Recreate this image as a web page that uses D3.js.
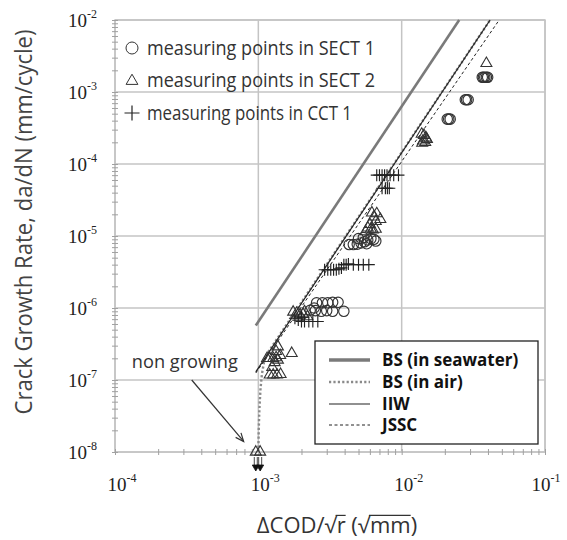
<!DOCTYPE html>
<html>
<head>
<meta charset="utf-8">
<script src="https://cdn.jsdelivr.net/npm/d3@7"></script>
<style>
  html, body { margin: 0; padding: 0; background: #fff; }
  svg { display: block; }
</style>
</head>
<body>
<svg id="chart" width="567" height="540"></svg>
<script>
// ---------------- DATA ----------------
const xDecades = [1e-4, 1e-3, 1e-2, 1e-1];
const xTickExp = ["-4", "-3", "-2", "-1"];
const yDecades = [1e-8, 1e-7, 1e-6, 1e-5, 1e-4, 1e-3, 1e-2];
const yTickExp = ["-8", "-7", "-6", "-5", "-4", "-3", "-2"];

const seriesNames = ["measuring points in SECT 1", "measuring points in SECT 2", "measuring points in CCT 1"];
const lineNames = ["BS (in seawater)", "BS (in air)", "IIW", "JSSC"];

// SECT 1 (circles)
const sect1 = [
  [0.0365, 1.6e-3], [0.0372, 1.6e-3], [0.0380, 1.6e-3], [0.0390, 1.6e-3], [0.0398, 1.6e-3],
  [0.0278, 7.8e-4], [0.0284, 7.8e-4], [0.0291, 7.8e-4],
  [0.0208, 4.2e-4], [0.0213, 4.2e-4], [0.0218, 4.2e-4],
  [4.3e-3, 7.6e-6], [4.6e-3, 7.6e-6], [4.9e-3, 7.7e-6], [5.2e-3, 8.0e-6], [5.5e-3, 8.3e-6],
  [5.8e-3, 8.8e-6], [6.1e-3, 9.2e-6], [6.4e-3, 9.0e-6], [5.0e-3, 9.2e-6], [5.7e-3, 7.8e-6],
  [6.6e-3, 8.5e-6], [5.4e-3, 9.5e-6],
  [2.55e-3, 1.18e-6], [2.8e-3, 1.18e-6], [3.05e-3, 1.18e-6], [3.3e-3, 1.2e-6], [3.6e-3, 1.2e-6],
  [2.3e-3, 9.3e-7], [2.5e-3, 9.2e-7], [2.75e-3, 9.0e-7], [3.0e-3, 9.2e-7], [3.3e-3, 9.0e-7],
  [3.95e-3, 9.0e-7], [2.45e-3, 1.0e-6]
];

// SECT 2 (triangles)
const sect2 = [
  [0.039, 2.5e-3],
  [0.0138, 2.6e-4], [0.0143, 2.5e-4], [0.0148, 2.3e-4], [0.0141, 2.1e-4], [0.0146, 2.0e-4],
  [0.0139, 1.95e-4], [0.0150, 2.2e-4],
  [6.2e-3, 2.1e-5], [6.7e-3, 2.05e-5], [6.4e-3, 1.85e-5], [7.1e-3, 1.7e-5], [6.6e-3, 1.6e-5],
  [6.0e-3, 1.45e-5], [5.8e-3, 1.3e-5], [6.1e-3, 1.25e-5], [6.3e-3, 1.22e-5], [6.6e-3, 1.25e-5],
  [5.6e-3, 1.15e-5],
  [1.75e-3, 8.8e-7], [1.85e-3, 8.5e-7], [1.95e-3, 8.0e-7], [2.05e-3, 8.2e-7], [2.2e-3, 7.6e-7],
  [2.1e-3, 8.9e-7],
  [1.15e-3, 2.0e-7], [1.2e-3, 2.0e-7], [1.27e-3, 2.0e-7], [1.33e-3, 2.05e-7], [1.37e-3, 1.9e-7],
  [1.3e-3, 1.75e-7], [1.33e-3, 2.5e-7], [1.37e-3, 2.9e-7], [1.42e-3, 2.2e-7], [1.71e-3, 2.35e-7],
  [1.2e-3, 1.18e-7], [1.27e-3, 1.18e-7], [1.35e-3, 1.18e-7], [1.43e-3, 1.2e-7], [1.25e-3, 1.5e-7]
];
// SECT 2 points that did not grow (drawn with down arrows)
const nonGrowing = [[9.6e-4, 1e-8], [1.03e-3, 1e-8]];

// CCT 1 (crosses)
const cct1 = [
  [6.7e-3, 7.0e-5], [7.0e-3, 7.0e-5], [7.3e-3, 7.0e-5], [7.6e-3, 7.0e-5], [7.9e-3, 7.0e-5],
  [8.3e-3, 7.0e-5], [8.8e-3, 7.0e-5], [9.5e-3, 7.0e-5],
  [7.3e-3, 4.6e-5], [7.7e-3, 4.6e-5], [7.95e-3, 4.6e-5], [8.2e-3, 4.6e-5],
  [2.9e-3, 3.4e-6], [3.05e-3, 3.4e-6], [3.2e-3, 3.4e-6], [3.35e-3, 3.4e-6], [3.5e-3, 3.4e-6],
  [3.65e-3, 3.5e-6], [3.8e-3, 3.6e-6],
  [3.95e-3, 4.0e-6], [4.1e-3, 4.0e-6], [4.25e-3, 4.1e-6], [4.6e-3, 4.0e-6], [5.0e-3, 4.0e-6],
  [5.4e-3, 4.0e-6], [5.9e-3, 4.0e-6],
  [1.8e-3, 7.2e-7], [1.9e-3, 6.8e-7], [2.0e-3, 6.5e-7], [2.1e-3, 6.5e-7], [2.25e-3, 6.5e-7],
  [2.4e-3, 6.5e-7], [2.6e-3, 6.5e-7], [2.0e-3, 7.5e-7]
];

// Design curves
const bsSeawater = [[9.6e-4, 5.7e-7], [0.0252, 1e-2]];
const bsAir = [[1.0e-3, 1e-8], [1.006e-3, 2.0e-8], [1.017e-3, 3.9e-8], [1.035e-3, 7.5e-8],
               [1.06e-3, 1.22e-7], [1.097e-3, 1.8e-7], [1.14e-3, 2.25e-7], [0.0414, 1e-2]];
const iiw = [[9.6e-4, 1.3e-7], [0.0414, 1e-2]];
const jssc = [[9.6e-4, 1.25e-7], [0.0479, 1e-2]];

// Annotation
const annoText = "non growing";
const annoTextPos = [1.31e-4, 1.45e-7];
const annoArrow = [[3.43e-4, 1.0e-7], [7.9e-4, 1.4e-8]];

// ---------------- CHART ----------------
const svg = d3.select("#chart");
const L = 115, R = 545, T = 20, B = 452;
const x = d3.scaleLog().domain([1e-4, 1e-1]).range([L, R]);
const y = d3.scaleLog().domain([1e-8, 1e-2]).range([B, T]);
const sans = "'Open Sans', 'Noto Sans', sans-serif";
const serif = "'Liberation Serif', 'DejaVu Serif', serif";
const gridCol = "#c4c4c4";

// gridlines
svg.append("g").selectAll("line").data(xDecades).join("line")
  .attr("x1", d => x(d)).attr("x2", d => x(d)).attr("y1", T).attr("y2", B)
  .attr("stroke", gridCol).attr("stroke-width", 1.5);
svg.append("g").selectAll("line").data(yDecades).join("line")
  .attr("x1", L).attr("x2", R).attr("y1", d => y(d)).attr("y2", d => y(d))
  .attr("stroke", gridCol).attr("stroke-width", 1.5);
svg.append("rect").attr("x", L).attr("y", T).attr("width", R - L).attr("height", B - T)
  .attr("fill", "none").attr("stroke", gridCol).attr("stroke-width", 1.5);

// minor ticks (crossing the axis lines)
const yMinor = svg.append("g").attr("transform", `translate(${L},0)`)
  .call(d3.axisLeft(y).tickValues(y.ticks()).tickFormat("").tickSize(3));
yMinor.select(".domain").remove();
yMinor.selectAll("line").attr("x1", -3).attr("x2", 3).attr("stroke", "#a0a0a0");
const xMinor = svg.append("g").attr("transform", `translate(0,${B})`)
  .call(d3.axisBottom(x).tickValues(x.ticks()).tickFormat("").tickSize(3));
xMinor.select(".domain").remove();
xMinor.selectAll("line").attr("y1", -3).attr("y2", 3).attr("stroke", "#a0a0a0");

// decade tick labels (10^n)
const yAx = svg.append("g").attr("transform", `translate(${L},0)`)
  .call(d3.axisLeft(y).tickValues(yDecades).tickSize(0).tickPadding(18).tickFormat(""));
yAx.select(".domain").remove();
yAx.selectAll(".tick text").each(function(d, i) {
  const t = d3.select(this).attr("font-family", serif).attr("font-size", 19).attr("fill", "#222")
    .attr("dy", "0.35em");
  t.append("tspan").text("10");
  t.append("tspan").text(yTickExp[i]).attr("font-size", 12).attr("dy", "-0.75em");
});
const xAx = svg.append("g").attr("transform", `translate(0,${B})`)
  .call(d3.axisBottom(x).tickValues(xDecades).tickSize(0).tickPadding(26).tickFormat(""));
xAx.select(".domain").remove();
xAx.selectAll(".tick text").each(function(d, i) {
  const t = d3.select(this).attr("font-family", serif).attr("font-size", 19).attr("fill", "#222")
    .attr("text-anchor", "start");
  t.append("tspan").text("10");
  t.append("tspan").text(xTickExp[i]).attr("font-size", 12).attr("dy", "-0.75em");
  const w = this.getComputedTextLength();
  const tx = x(d);
  const start = Math.min(tx - 8, 560 - w) - tx;
  t.attr("x", start);
});

// design lines
const line = d3.line().x(d => x(d[0])).y(d => y(d[1]));
const lineStyles = [
  { data: bsSeawater, stroke: "#7a7a7a", w: 2.6, dash: null },
  { data: bsAir, stroke: "#8a8a8a", w: 2.4, dash: "2.2,2.2" },
  { data: iiw, stroke: "#222", w: 1.2, dash: null },
  { data: jssc, stroke: "#222", w: 1.0, dash: "3,2.5" }
];
const gLines = svg.append("g");
lineStyles.forEach(s => {
  gLines.append("path").attr("d", line(s.data)).attr("fill", "none")
    .attr("stroke", s.stroke).attr("stroke-width", s.w)
    .attr("stroke-dasharray", s.dash);
});

// markers
const mk = "#333";
const tri = d3.symbol().type(d3.symbolTriangle).size(52);
svg.append("g").selectAll("path").data(sect2.concat(nonGrowing)).join("path")
  .attr("d", tri).attr("transform", d => `translate(${x(d[0])},${y(d[1])})`)
  .attr("fill", "none").attr("stroke", mk).attr("stroke-width", 1.1);
svg.append("g").selectAll("circle").data(sect1).join("circle")
  .attr("cx", d => x(d[0])).attr("cy", d => y(d[1])).attr("r", 5.2)
  .attr("fill", "none").attr("stroke", mk).attr("stroke-width", 1.15);
svg.append("g").selectAll("path").data(cct1).join("path")
  .attr("d", "M-6,0H6M0,-6V6").attr("transform", d => `translate(${x(d[0])},${y(d[1])})`)
  .attr("fill", "none").attr("stroke", "#222").attr("stroke-width", 1.15);

// down arrows under non growing points
const gArr = svg.append("g");
nonGrowing.forEach(d => {
  const px = x(d[0]), py = y(d[1]);
  gArr.append("path").attr("d", `M${px - 1.5},${py + 5}V${py + 13}M${px + 1.5},${py + 5}V${py + 13}`)
    .attr("stroke", "#333").attr("stroke-width", 0.9).attr("fill", "none");
  gArr.append("path").attr("d", `M${px - 3.5},${py + 13}L${px + 3.5},${py + 13}L${px},${py + 19}Z`)
    .attr("fill", "#111").attr("stroke", "#111").attr("stroke-width", 0.8);
});

// annotation
svg.append("text").attr("x", x(annoTextPos[0])).attr("y", y(annoTextPos[1]))
  .attr("font-family", sans).attr("font-size", 18).attr("fill", "#333")
  .attr("textLength", 106).attr("lengthAdjust", "spacingAndGlyphs").text(annoText);
{
  const x1 = x(annoArrow[0][0]), y1 = y(annoArrow[0][1]);
  const x2 = x(annoArrow[1][0]), y2 = y(annoArrow[1][1]);
  svg.append("line").attr("x1", x1).attr("y1", y1).attr("x2", x2).attr("y2", y2)
    .attr("stroke", "#333").attr("stroke-width", 1.2);
  const ang = Math.atan2(y2 - y1, x2 - x1), hl = 9, ha = 0.4;
  svg.append("path")
    .attr("d", `M${x2 - hl * Math.cos(ang - ha)},${y2 - hl * Math.sin(ang - ha)}L${x2},${y2}L${x2 - hl * Math.cos(ang + ha)},${y2 - hl * Math.sin(ang + ha)}`)
    .attr("fill", "none").attr("stroke", "#333").attr("stroke-width", 1.2);
}

// top-left legend (series)
const legRows = [48, 80, 113];
const gl = svg.append("g");
gl.append("circle").attr("cx", 132).attr("cy", legRows[0]).attr("r", 6)
  .attr("fill", "none").attr("stroke", mk).attr("stroke-width", 1);
gl.append("path").attr("d", d3.symbol().type(d3.symbolTriangle).size(60))
  .attr("transform", `translate(132,${legRows[1] + 1})`)
  .attr("fill", "none").attr("stroke", mk).attr("stroke-width", 1);
gl.append("path").attr("d", "M-7.5,0H7.5M0,-7.5V7.5").attr("transform", `translate(132,${legRows[2]})`)
  .attr("stroke", "#222").attr("stroke-width", 1.2);
seriesNames.forEach((n, i) => {
  gl.append("text").attr("x", 147).attr("y", legRows[i]).attr("dy", "0.35em")
    .attr("font-family", sans).attr("font-size", 19.5).attr("fill", "#333")
    .attr("textLength", i === 2 ? 205 : 228).attr("lengthAdjust", "spacingAndGlyphs").text(n);
});

// lower-right legend box (lines)
const lg = svg.append("g");
lg.append("rect").attr("x", 315).attr("y", 341).attr("width", 223).attr("height", 103)
  .attr("fill", "#fff").attr("stroke", "#222").attr("stroke-width", 1.3);
const lgRows = [360, 382, 404, 425];
lineStyles.forEach((s, i) => {
  lg.append("line").attr("x1", 329).attr("x2", 370).attr("y1", lgRows[i]).attr("y2", lgRows[i])
    .attr("stroke", s.stroke).attr("stroke-width", i === 0 ? 3.5 : s.w)
    .attr("stroke-dasharray", s.dash);
  lg.append("text").attr("x", 382).attr("y", lgRows[i]).attr("dy", "0.35em")
    .attr("font-family", sans).attr("font-weight", "bold").attr("font-size", 17).attr("fill", "#111")
    .text(lineNames[i]);
});

// axis titles
svg.append("text").attr("transform", "translate(32,222) rotate(-90)")
  .attr("text-anchor", "middle").attr("font-family", sans).attr("font-size", 23).attr("fill", "#444")
  .attr("textLength", 385).attr("lengthAdjust", "spacingAndGlyphs")
  .text("Crack Growth Rate, da/dN (mm/cycle)");

const xt = svg.append("text").attr("x", 337).attr("y", 533).attr("text-anchor", "middle")
  .attr("font-family", sans).attr("font-size", 22).attr("fill", "#333")
  .text("ΔCOD/√r (√mm)");
{
  const node = xt.node();
  const fs = 22, base = 533, oy = base - fs * 0.80;
  const a = node.getStartPositionOfChar(6).x - 1, b = node.getEndPositionOfChar(6).x;
  const c = node.getStartPositionOfChar(10).x - 1, e = node.getEndPositionOfChar(11).x;
  svg.append("line").attr("x1", a).attr("x2", b).attr("y1", oy).attr("y2", oy).attr("stroke", "#333").attr("stroke-width", 1.2);
  svg.append("line").attr("x1", c).attr("x2", e).attr("y1", oy).attr("y2", oy).attr("stroke", "#333").attr("stroke-width", 1.2);
}
</script>
</body>
</html>
